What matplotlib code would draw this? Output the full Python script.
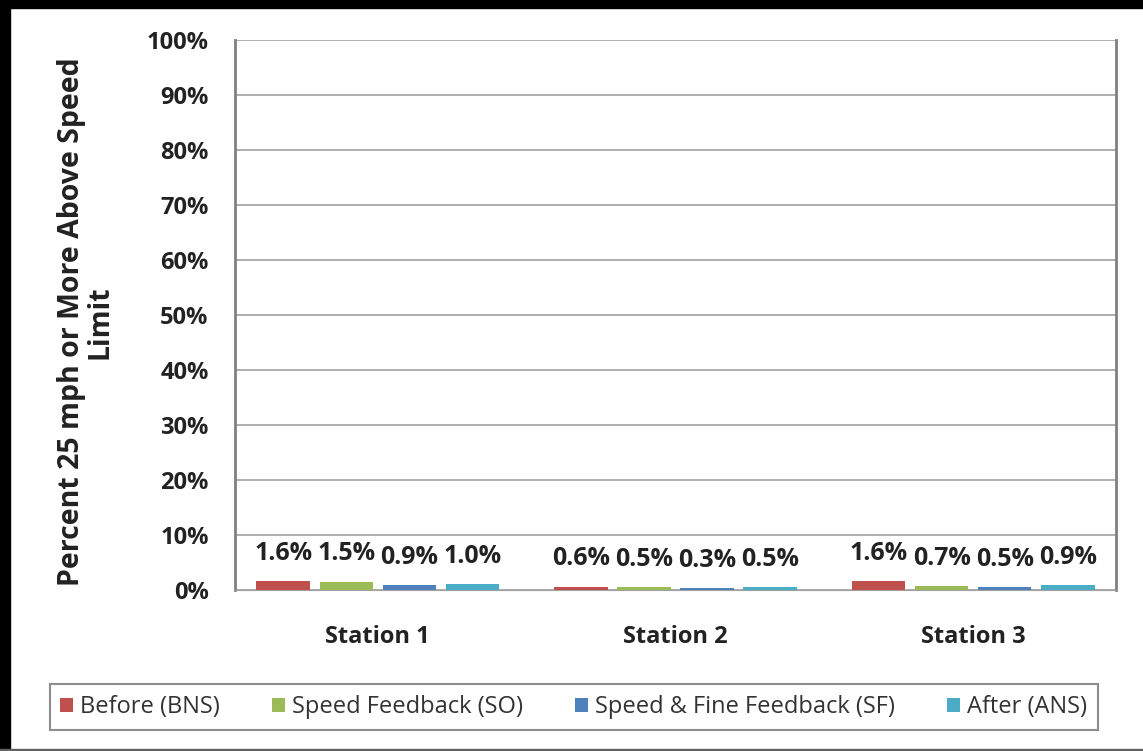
import matplotlib.pyplot as plt
from matplotlib.patches import Rectangle
from matplotlib.ticker import PercentFormatter
import numpy as np

plt.rcParams['font.family'] = ['Open Sans', 'DejaVu Sans']

stations = ['Station 1', 'Station 2', 'Station 3']
series = ['Before (BNS)', 'Speed Feedback (SO)', 'Speed & Fine Feedback (SF)', 'After (ANS)']
before = [1.6, 0.6, 1.6]
speed_fb = [1.5, 0.5, 0.7]
speed_fine = [0.9, 0.3, 0.5]
after = [1.0, 0.5, 0.9]
colors = ['#C0504D', '#9BBB59', '#4F81BD', '#4BACC6']

fig = plt.figure(figsize=(11.43, 7.51), dpi=100)
ax = fig.add_axes([0.2056, 0.2144, 0.7708, 0.7323])

x = np.arange(len(stations))
width = 0.18
step = 0.212
for i, (vals, name) in enumerate(zip([before, speed_fb, speed_fine, after], series)):
    pos = x + (i - 1.5) * step
    ax.bar(pos, vals, width, color=colors[i], label=name, zorder=3)
    for p, v in zip(pos, vals):
        ax.annotate(f'{v:.1f}%', (p, v), xytext=(0, 11), textcoords='offset points',
                    ha='center', va='bottom', fontsize=18, fontweight='bold', color='#222222')

ax.set_ylim(0, 100)
ax.set_xlim(-0.48, 2.48)
ax.set_yticks(np.arange(0, 101, 10))
ax.yaxis.set_major_formatter(PercentFormatter(decimals=0))
ax.grid(axis='y', color='#A0A0A0', linewidth=1.2, zorder=0)
ax.set_xticks(x)
ax.set_xticklabels(stations, fontsize=17, fontweight='bold')
ax.tick_params(axis='both', length=0, labelsize=17, colors='#222222')
for lbl in ax.get_yticklabels():
    lbl.set_fontweight('bold')
ax.tick_params(axis='y', pad=19)
ax.tick_params(axis='x', pad=25)
for s in ['left', 'right']:
    ax.spines[s].set_color('#808080')
    ax.spines[s].set_linewidth(2)
ax.spines['top'].set_visible(False)
ax.spines['bottom'].set_color('#A0A0A0')

fig.text(0.075, 0.571, 'Percent 25 mph or More Above Speed\nLimit', rotation=90,
         ha='center', va='center', fontsize=20.5, fontweight='bold', color='#222222',
         linespacing=1.0)

leg = fig.legend(loc='center', bbox_to_anchor=(0.502, 0.0586), ncol=4, fontsize=17,
                 frameon=True, fancybox=False, edgecolor='#707070', handlelength=0.55,
                 handleheight=0.55, handletextpad=0.3, columnspacing=2.2,
                 borderpad=0.45, borderaxespad=0)
leg.get_frame().set_linewidth(1.5)
for t in leg.get_texts():
    t.set_color('#333333')

# outer frame lines (thick black left/top, thin bottom)
fig.patches.append(Rectangle((0, 0), 0.009, 1, transform=fig.transFigure, color='black'))
fig.patches.append(Rectangle((0, 0.989), 1, 0.011, transform=fig.transFigure, color='black'))
fig.patches.append(Rectangle((0, 0), 1, 0.003, transform=fig.transFigure, color='#606060'))

fig.savefig('out.png', dpi=100)
